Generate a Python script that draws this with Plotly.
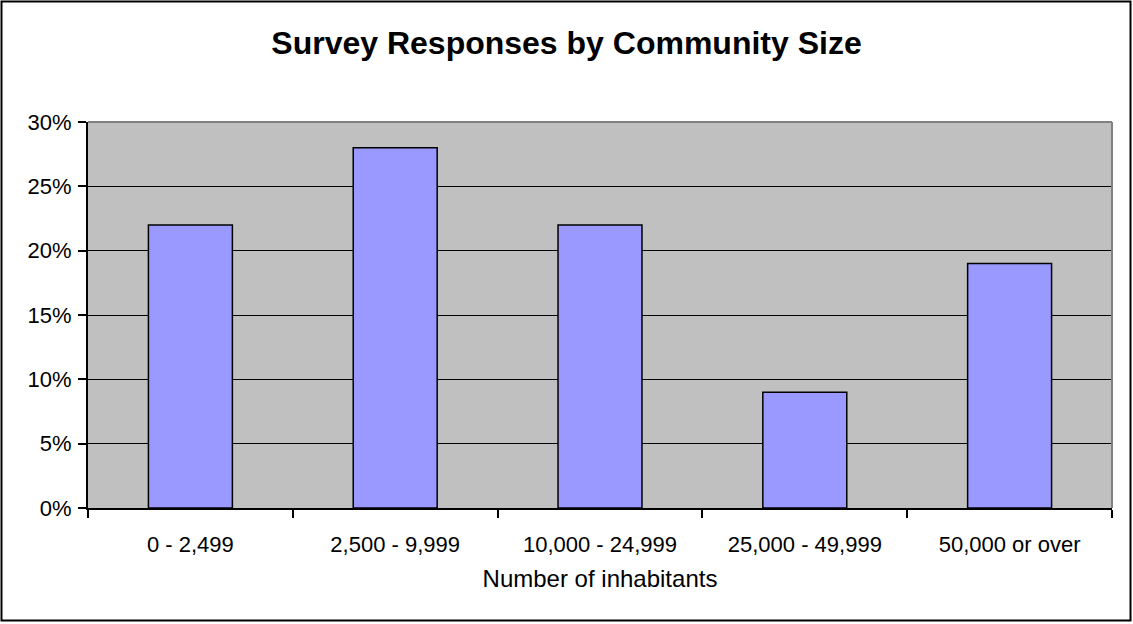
import plotly.graph_objects as go

categories = ['0 - 2,499', '2,500 - 9,999', '10,000 - 24,999', '25,000 - 49,999', '50,000 or over']
shares = [0.22, 0.28, 0.22, 0.09, 0.19]
y_ticks = [0, 0.05, 0.10, 0.15, 0.20, 0.25, 0.30]
y_labels = ['0%', '5%', '10%', '15%', '20%', '25%', '30%']

W, H = 1133, 624
L, R, T, B = 88, 1112, 122, 508  # plot area in pixels

fig = go.Figure(go.Bar(
    x=categories,
    y=shares,
    marker=dict(color='#9999FF', line=dict(color='black', width=1.5)),
    hoverinfo='none',
))

# paper coords for the outer chart frame
px = lambda v: (v - L) / (R - L)
py = lambda v: (B - v) / (B - T)

fig.update_layout(
    width=W, height=H,
    margin=dict(l=L, r=W - R, t=T, b=H - B),
    paper_bgcolor='white',
    plot_bgcolor='#C0C0C0',
    bargap=0.59,
    showlegend=False,
    font=dict(family='Liberation Sans, Arial', color='black', size=22),
    title=dict(
        text='<b>Survey Responses by Community Size</b>',
        font=dict(size=32, family='Liberation Sans, Arial', color='black'),
        x=0.5, xanchor='center',
        yref='container', y=1 - 43 / H, yanchor='middle',
    ),
    xaxis=dict(
        showline=True, linecolor='black', linewidth=2,
        ticks='outside', tickson='boundaries', ticklen=8, tickwidth=2, tickcolor='black',
        tickfont=dict(size=22),
        ticklabelstandoff=16,
        title=dict(text='Number of inhabitants', font=dict(size=24), standoff=14),
        showgrid=False,
    ),
    yaxis=dict(
        range=[0, 0.30],
        tickvals=y_ticks, ticktext=y_labels,
        showline=True, linecolor='black', linewidth=2,
        ticks='outside', ticklen=8, tickwidth=2, tickcolor='black',
        tickfont=dict(size=22),
        ticklabelstandoff=2,
        showgrid=True, gridcolor='black', gridwidth=1,
        zeroline=False,
    ),
    shapes=[
        # gray top and right edges of the plot area
        dict(type='line', xref='x domain', yref='y domain', x0=0, x1=1, y0=1, y1=1,
             line=dict(color='#808080', width=2), layer='above'),
        dict(type='line', xref='x domain', yref='y domain', x0=1, x1=1, y0=0, y1=1,
             line=dict(color='#808080', width=2), layer='above'),
        # outer frame
        dict(type='rect', xref='paper', yref='paper',
             x0=px(1.5), x1=px(1130.5), y0=py(620.5), y1=py(1.5),
             line=dict(color='black', width=2), fillcolor='rgba(0,0,0,0)'),
    ],
)

fig.write_html('out.html', config={'displayModeBar': False},
               post_script="document.body.style.margin='0';document.body.style.overflow='hidden';")
